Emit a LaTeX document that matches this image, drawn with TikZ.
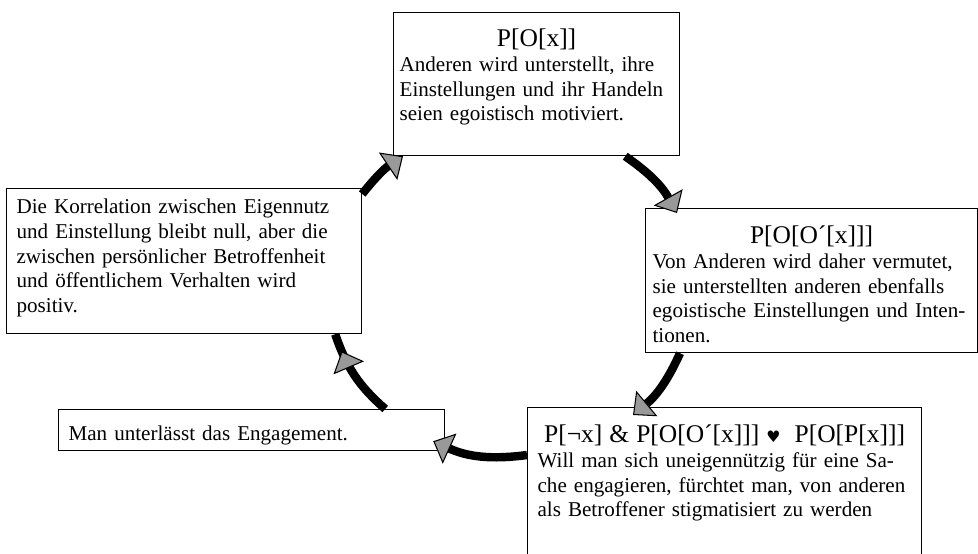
\documentclass[tikz,border=0pt]{standalone}
\usepackage{fontspec}
\setmainfont{Liberation Serif}
\newfontfamily\herzfont{DejaVu Sans}
\usepackage{xcolor}
\usepackage{tikz}
\usetikzlibrary{arrows.meta,decorations.markings}
\definecolor{tipgray}{gray}{0.6}
\newcommand{\boxfont}{\fontsize{12}{14.1}\selectfont\hyphenpenalty=10000\relax\exhyphenpenalty=10000\relax}
\newcommand{\titel}[1]{{\centering\fontsize{14.5}{16}\selectfont #1\par}}
\newcommand{\herz}{{\herzfont\fontsize{9}{10}\selectfont ♥}}

\begin{document}
\begin{tikzpicture}[
  box/.style={draw,line width=0.7pt,fill=white,anchor=north west,align=left,
    inner xsep=0.2cm,inner ysep=0pt,font=\boxfont},
  tip/.style={-{Triangle[length=0.36cm,width=0.66cm,fill=tipgray,line width=0.6pt]}},
  cyc/.style={line width=4.8pt,tip},
  cycmid/.style={line width=4.8pt,postaction={decorate},
    decoration={markings,mark=at position 0.8 with
      {\arrow{Triangle[length=0.36cm,width=0.66cm,fill=tipgray,line width=0.6pt]}}}}
]
\useasboundingbox (0,0) rectangle (19.56,-11.08);
\clip (0,0) rectangle (19.56,-11.08);

\node[box,inner xsep=0.12cm,text width=5.48cm,text height=0.68cm,text depth=2.18cm] (top) at (7.86,-0.24)
  {\titel{P[O[x]]}Anderen wird unterstellt, ihre\\Einstellungen und ihr Handeln\\seien egoistisch motiviert.};
\node[box,text width=6.7cm,text height=0.5cm,text depth=2.4cm] (lft) at (0.12,-3.76)
  {Die Korrelation zwischen Eigennutz\\und Einstellung bleibt null, aber die\\zwischen persönlicher Betroffenheit\\und öffentlichem Verhalten wird\\positiv.};
\node[box,inner xsep=0.14cm,text width=6.36cm,text height=0.7cm,text depth=2.18cm] (rgt) at (12.9,-4.16)
  {\titel{P[O[O´[x]]]}Von Anderen wird daher vermutet,\\sie unterstellten anderen ebenfalls\\egoistische Einstellungen und Inten-\\tionen.};
\node[box,text width=7.48cm,text height=0.7cm,text depth=3.6cm] (bot) at (10.54,-8.14)
  {\titel{P[¬x] \& P[O[O´[x]]] \herz\ \ P[O[P[x]]]}Will man sich uneigennützig für eine Sa-\\che engagieren, fürchtet man, von anderen\\als Betroffener stigmatisiert zu werden};
\node[box,text width=7.32cm,text height=0.62cm,text depth=0.2cm] (man) at (1.16,-8.18)
  {Man unterlässt das Engagement.};

% the cycle
\draw[cyc] ([yshift=-0.12cm]lft.north east) to[bend left=9] ([xshift=0.2cm]top.south west);
\draw[cyc] ([xshift=-1.1cm]top.south east) to[bend left=13] ([xshift=0.64cm,yshift=-0.1cm]rgt.north west);
\draw[cyc] ([xshift=0.7cm]rgt.south west) to[bend left=13] ([xshift=2.12cm,yshift=-0.16cm]bot.north west);
\draw[cyc] ([yshift=-0.96cm]bot.north west) to[bend left=16] ([xshift=-0.24cm,yshift=0.2cm]man.south east);
\draw[cycmid] ([xshift=-1.2cm]man.north east) to[bend left=15] ([xshift=-0.54cm]lft.south east);
\end{tikzpicture}
\end{document}
